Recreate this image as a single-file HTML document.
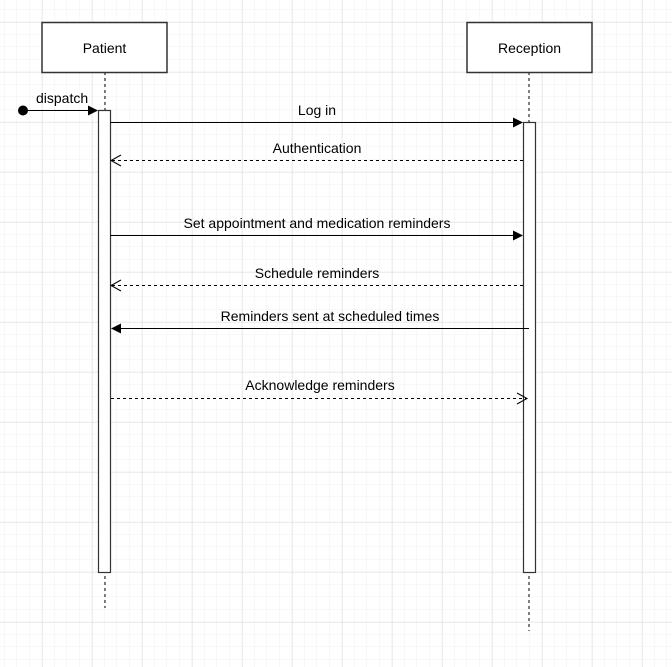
<!DOCTYPE html>
<html><head><meta charset="utf-8"><style>
html,body{margin:0;padding:0;background:#fff}
svg{display:block}
text{font-family:"Liberation Sans",Arial,sans-serif;font-size:14px;fill:#000}
</style></head><body>
<svg width="672" height="667" viewBox="0 0 672 667" xmlns="http://www.w3.org/2000/svg">
<defs>
<pattern id="minor" x="4.5" y="9.5" width="12.5" height="12.5" patternUnits="userSpaceOnUse">
<path d="M12.5 0 V12.5 M0 12.5 H12.5" stroke="#f0f0f0" stroke-width="1" fill="none"/>
</pattern>
<pattern id="major" x="-7.5" y="-27.5" width="50" height="50" patternUnits="userSpaceOnUse">
<path d="M50 0 V50 M0 50 H50" stroke="#dcdcdc" stroke-width="1" fill="none"/>
</pattern>
</defs>
<rect width="672" height="667" fill="url(#minor)"/>
<rect width="672" height="667" fill="url(#major)"/>

<line x1="105" y1="72" x2="105" y2="608" stroke="#000" stroke-dasharray="3,3"/>
<line x1="529" y1="72" x2="529" y2="631" stroke="#000" stroke-dasharray="3,3"/>

<rect x="42" y="22.5" width="125" height="50" fill="#fff" stroke="#333" stroke-width="1.5"/>
<text x="104.5" y="53" text-anchor="middle" font-size="15">Patient</text>
<rect x="467" y="22.5" width="125" height="50" fill="#fff" stroke="#333" stroke-width="1.5"/>
<text x="529.5" y="53" text-anchor="middle" font-size="15">Reception</text>

<rect x="98.5" y="110.5" width="12" height="462" fill="#fff" stroke="#333" stroke-width="1.2"/>
<rect x="523.5" y="122.5" width="12" height="450" fill="#fff" stroke="#333" stroke-width="1.2"/>

<circle cx="23" cy="110.5" r="5" fill="#000"/>
<line x1="23" y1="110.5" x2="90" y2="110.5" stroke="#000"/>
<path d="M88 105.5 L98 110.5 L88 115.5 Z" fill="#000"/>
<text x="36" y="103" font-size="13">dispatch</text>

<line x1="110" y1="122.5" x2="514" y2="122.5" stroke="#000"/>
<path d="M513 117.5 L523 122.5 L513 127.5 Z" fill="#000"/>
<text x="317" y="115" text-anchor="middle">Log in</text>

<line x1="523" y1="160.5" x2="112" y2="160.5" stroke="#000" stroke-dasharray="3,3"/>
<path d="M121 155 L111 160.5 L121 166" fill="none" stroke="#000"/>
<text x="317" y="153" text-anchor="middle">Authentication</text>

<line x1="110" y1="235.5" x2="514" y2="235.5" stroke="#000"/>
<path d="M513 230.5 L523 235.5 L513 240.5 Z" fill="#000"/>
<text x="317" y="228" text-anchor="middle">Set appointment and medication reminders</text>

<line x1="523" y1="285.5" x2="112" y2="285.5" stroke="#000" stroke-dasharray="3,3"/>
<path d="M121 280 L111 285.5 L121 291" fill="none" stroke="#000"/>
<text x="317" y="278" text-anchor="middle">Schedule reminders</text>

<line x1="529" y1="328.5" x2="120" y2="328.5" stroke="#000"/>
<path d="M121 323.5 L111 328.5 L121 333.5 Z" fill="#000"/>
<text x="330" y="321" text-anchor="middle">Reminders sent at scheduled times</text>

<line x1="111" y1="398.5" x2="526" y2="398.5" stroke="#000" stroke-dasharray="3,3"/>
<path d="M517 393 L527 398.5 L517 404" fill="none" stroke="#000"/>
<text x="320" y="390" text-anchor="middle">Acknowledge reminders</text>
</svg>
</body></html>
